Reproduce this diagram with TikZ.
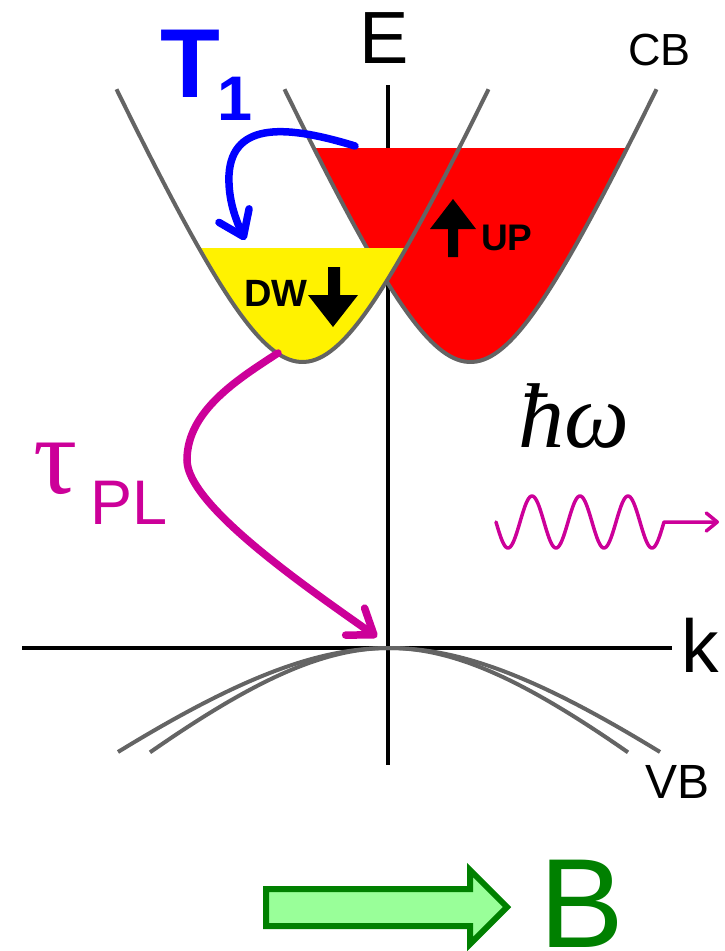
\documentclass[tikz,border=0pt]{standalone}
\usepackage{fontspec}
\setmainfont{Liberation Sans}
\newfontfamily\seriffont{Liberation Serif}
\usetikzlibrary{arrows.meta}
\definecolor{bandgray}{RGB}{100,100,100}
\definecolor{mag}{RGB}{204,0,153}
\definecolor{dgreen}{RGB}{0,128,0}
\definecolor{lgreen}{RGB}{153,255,153}
\newcommand{\fs}[1]{\fontsize{#1}{#1}\selectfont}
\begin{document}
\begin{tikzpicture}[x=1pt,y=-1pt,
  band/.style={bandgray,line width=4pt},
  axisline/.style={black,line width=4pt},
  lbl/.style={inner sep=0pt,outer sep=0pt,anchor=base west},
  bigarrow/.style={line width=7.5pt,line cap=round,-{Straight Barb[length=23pt,width=33pt,round]}},
  wavearrow/.style={mag,line width=3.5pt,line cap=round,line join=round,-{Straight Barb[length=11pt,width=18pt,round]}}
]
\useasboundingbox (0,0) rectangle (724,951);
% axes
\coordinate (Etop) at (388,85);
\coordinate (Ebot) at (388,765);
\coordinate (kleft) at (22,648);
\coordinate (kright) at (672,648);
\draw[axisline] (Etop) -- (Ebot);
\draw[axisline] (kleft) -- (kright);
% red (UP) band
\fill[red] plot[domain=-156.7:156.7,samples=80] ({470.5+\x},{362-172*(sqrt(1+(\x/78)*(\x/78))-1)}) -- cycle;
\draw[band] plot[domain=-186:186,samples=100] ({470.5+\x},{362-172*(sqrt(1+(\x/78)*(\x/78))-1)});
% yellow (DW) band
\fill[yellow] plot[domain=-103.6:103.6,samples=80] ({302.5+\x},{362-172*(sqrt(1+(\x/78)*(\x/78))-1)}) -- cycle;
\draw[band] plot[domain=-186:186,samples=100] ({302.5+\x},{362-172*(sqrt(1+(\x/78)*(\x/78))-1)});
% valence bands
\draw[band] plot[domain=-271:271,samples=100] ({389+\x},{648+152*(sqrt(1+(\x/200)*(\x/200))-1)});
\draw[band] plot[domain=-239:239,samples=100] ({389+\x},{648+152*(sqrt(1+(\x/176)*(\x/176))-1)});
% spin block arrows
\fill[black] (448,257) -- (448,229) -- (430,229) -- (453,199) -- (476,229) -- (458,229) -- (458,257) -- cycle;
\fill[black] (328,267) -- (340,267) -- (340,295) -- (358,295) -- (333,327) -- (308,295) -- (328,295) -- cycle;
\node[lbl,font=\fs{37}\bfseries] (up) at (481,250) {UP};
\node[lbl,font=\fs{38}\bfseries] (dw) at (244,306) {DW};
% labels
\node[lbl,font=\fs{74}] (E) at (359,63) {E};
\node[lbl,font=\fs{75}] (k) at (681,672) {k};
\node[lbl,font=\fs{45}] (CB) at (628,65) {CB};
\node[lbl,font=\fs{48}] (VB) at (645,798) {VB};
\node[lbl,font=\fs{98}\bfseries,text=blue] (T) at (160,97) {T};
\node[lbl,font=\fs{63}\bfseries,text=blue] (Tsub) at (217,120) {1};
\node[lbl,font=\fs{110}\seriffont,text=mag] (tau) at (34,493) {τ};
\node[lbl,font=\fs{63},text=mag] (PL) at (90,524) {PL};
\node[lbl,font=\fs{92}\seriffont\itshape] (hw) at (518,447) {ħω};
% T1 relaxation arrow
\coordinate (t1s) at (355,146);
\coordinate (t1e) at (245,240);
\draw[blue,bigarrow] (t1s) .. controls (290,126) and (232,120) .. (229,175) .. controls (228,200) and (236,220) .. (t1e);
% PL arrow
\coordinate (pls) at (278,353);
\coordinate (plm) at (187,460);
\coordinate (ple) at (377,637);
\draw[mag,bigarrow] (pls) .. controls (240,378) and (187,410) .. (plm) .. controls (187,505) and (306,587) .. (ple);
% photon
\coordinate (ws) at (496,522);
\coordinate (we) at (719,522);
\draw[wavearrow] plot[domain=496:664,samples=150] (\x,{522+26*sin(7.5*(\x-496))}) -- (we);
% magnetic field arrow
\draw[dgreen,fill=lgreen,line width=6pt] (266,889) -- (470,889) -- (470,870) -- (507,907) -- (470,944) -- (470,926) -- (266,926) -- cycle;
\node[lbl,font=\fs{127},text=dgreen] (B) at (539,947) {B};
\end{tikzpicture}
\end{document}
